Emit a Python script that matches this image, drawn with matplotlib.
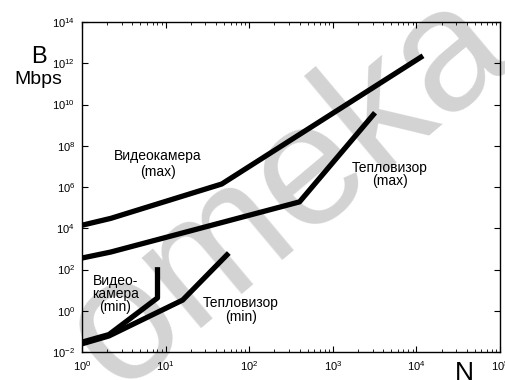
import numpy as np
import matplotlib.pyplot as plt
from matplotlib.ticker import LogLocator, NullFormatter

# curves (N, B in Mbps)
cam_max_n = [1, 2.2, 47, 12000]
cam_max_b = [1.4e4, 3.0e4, 1.4e6, 2.3e12]

therm_max_n = [1, 2.2, 400, 3200]
therm_max_b = [3.6e2, 7.0e2, 1.9e5, 4.0e9]

cam_min_n = [1, 2.1, 8.0, 8.0]
cam_min_b = [0.03, 0.07, 4.2, 1.3e2]

therm_min_n = [1, 2.1, 16, 57]
therm_min_b = [0.025, 0.06, 3.3, 6.3e2]

plt.rcParams['font.family'] = ['Liberation Sans', 'DejaVu Sans']

fig = plt.figure(figsize=(5.05, 3.8), dpi=100, facecolor="white")
ax = fig.add_axes([82 / 505, 28 / 380, 418 / 505, 330 / 380])

# watermark, kept under the curves and labels
ax.text(0.57, 0.5, "omeka", fontsize=125, color="#d3d3d3", rotation=40,
        ha="center", va="center", transform=fig.transFigure, clip_on=False,
        zorder=1)

for n, b in [(cam_max_n, cam_max_b), (therm_max_n, therm_max_b),
             (cam_min_n, cam_min_b), (therm_min_n, therm_min_b)]:
    ax.plot(n, b, color="black", lw=3.8, solid_capstyle="butt", zorder=3)

ax.set_xscale("log")
ax.set_yscale("log")
ax.set_xlim(1, 1e5)
ax.set_ylim(1e-2, 1e14)

ax.xaxis.set_major_locator(LogLocator(base=10, numticks=10))
ax.xaxis.set_minor_locator(LogLocator(base=10, subs=np.arange(2, 10), numticks=10))
ax.xaxis.set_minor_formatter(NullFormatter())
ax.yaxis.set_major_locator(LogLocator(base=100, numticks=20))
ax.yaxis.set_minor_locator(plt.NullLocator())
ax.tick_params(which="both", direction="in", top=True, right=True, labelsize=8)
ax.tick_params(which="major", length=4, pad=5)
ax.tick_params(which="minor", length=2.5)
for s in ax.spines.values():
    s.set_linewidth(1.0)

lab = dict(fontsize=10, ha="center", va="center", zorder=4)
ax.text(8.1, 1.3e7, "Видеокамера\n(max)", **lab)
ax.text(4800, 4e6, "Тепловизор\n(max)", linespacing=0.95, **lab)
ax.text(2.5, 6.5, "Видео-\nкамера\n(min)", linespacing=0.9, **lab)
ax.text(80, 1.1, "Тепловизор\n(min)", linespacing=0.95, **lab)

fig.text(39 / 505, 1 - 57 / 380, "B", fontsize=17, ha="center", va="center")
fig.text(38 / 505, 1 - 80 / 380, "Mbps", fontsize=14, ha="center", va="center")
fig.text(464 / 505, 1 - 373 / 380, "N", fontsize=19, ha="center", va="center")

fig.savefig("out.png", dpi=100, facecolor="white")
